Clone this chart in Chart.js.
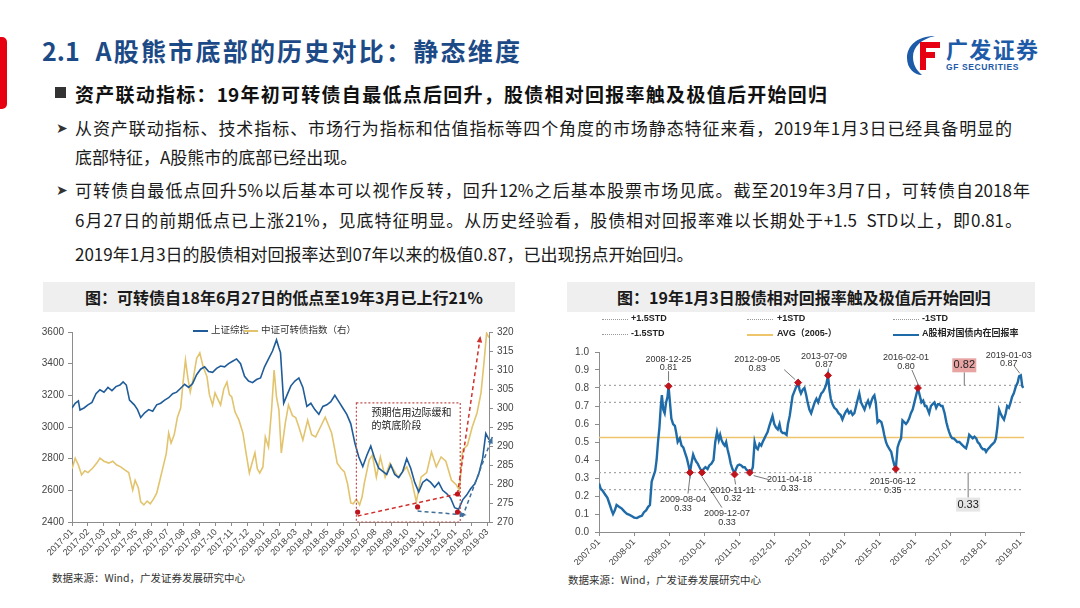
<!DOCTYPE html>
<html lang="zh">
<head>
<meta charset="UTF-8" />
<title>A股熊市底部的历史对比：静态维度</title>
<script src="https://cdn.jsdelivr.net/npm/chart.js"></script>
<style>
  body {
    margin: 0;
    width: 1080px;
    height: 608px;
    position: relative;
    overflow: hidden;
    background: #fff;
    font-family: "Noto Sans CJK SC", "Noto Sans", sans-serif;
    color: #222;
  }
  .t { position: absolute; white-space: nowrap; }
  .j { text-align: justify; text-align-last: justify; }
  .redbar { position: absolute; left: 0; top: 37px; width: 7px; height: 72px; background: #e60012; border-radius: 0 5px 5px 0; }
  .title { left: 42px; top: 36px; width: 478px; font-size: 25px; line-height: 28px; font-weight: bold; color: #1c4a86; }
  .logo1 { left: 946px; top: 36px; width: 92px; font-size: 22px; line-height: 24px; font-weight: bold; color: #1d5aa8; }
  .logo2 { left: 946px; top: 62px; font-size: 8.5px; line-height: 10px; font-weight: bold; color: #1d5aa8; letter-spacing: 0.6px; font-family: "Liberation Sans", sans-serif; }
  .head { left: 75px; top: 84px; width: 752px; font-size: 19px; line-height: 20px; font-weight: bold; color: #111; }
  .sq { left: 55px; top: 87px; width: 11px; height: 11px; background: #333; position: absolute; }
  .para { font-size: 17px; line-height: 20px; color: #1a1a1a; left: 75px; }
  .arrow { position: absolute; left: 56px; font-size: 14px; line-height: 20px; color: #333; font-family: "DejaVu Sans", sans-serif; }
  .boxhd { position: absolute; top: 282px; height: 30px; background: #efefef; }
  .chtitle { top: 287px; font-size: 16px; line-height: 20px; font-weight: bold; color: #1a1a1a; }
  .src { font-size: 10.5px; line-height: 12px; color: #333; }
  .lg { font-size: 9.5px; line-height: 11px; color: #333; }
  .lgb { font-size: 9px; line-height: 11px; color: #222; font-weight: bold; font-family: "Liberation Sans", "Noto Sans CJK SC", sans-serif; }
  .sw { position: absolute; height: 0; }
  canvas { position: absolute; }
</style>
</head>
<body>

<div class="redbar"></div>
<div class="t title j">2.1&nbsp; A股熊市底部的历史对比：静态维度</div>

<svg class="t" style="left:905px;top:34px" width="38" height="42" viewBox="0 0 38 42">
  <path d="M30 2 C12 2 2 12 2 24 C2 34 9 41 17 41 C11 36 8 30 8 23 C8 13 16 5 30 2 Z" fill="#1d5aa8"/>
  <rect x="15" y="8" width="20" height="6" fill="#e60012"/>
  <rect x="15" y="18" width="15" height="6" fill="#e60012"/>
  <rect x="15" y="8" width="6" height="28" fill="#e60012"/>
</svg>
<div class="t logo1 j">广发证券</div>
<div class="t logo2">GF SECURITIES</div>

<div class="sq"></div>
<div class="t head j">资产联动指标：19年初可转债自最低点后回升，股债相对回报率触及极值后开始回归</div>

<div class="arrow" style="top:118px">➤</div>
<div class="t para j" style="top:118px;width:937px">从资产联动指标、技术指标、市场行为指标和估值指标等四个角度的市场静态特征来看，2019年1月3日已经具备明显的</div>
<div class="t para" style="top:147px">底部特征，A股熊市的底部已经出现。</div>
<div class="arrow" style="top:180px">➤</div>
<div class="t para j" style="top:180px;width:955px">可转债自最低点回升5%以后基本可以视作反转，回升12%之后基本股票市场见底。截至2019年3月7日，可转债自2018年</div>
<div class="t para j" style="top:210px;width:947px">6月27日的前期低点已上涨21%，见底特征明显。从历史经验看，股债相对回报率难以长期处于+1.5&nbsp; STD以上，即0.81。</div>
<div class="t para" style="top:244px">2019年1月3日的股债相对回报率达到07年以来的极值0.87，已出现拐点开始回归。</div>

<div class="boxhd" style="left:43px;width:472px"></div>
<div class="t chtitle j" style="left:85px;width:387px">图：可转债自18年6月27日的低点至19年3月已上行21%</div>
<div class="boxhd" style="left:567px;width:468px"></div>
<div class="t chtitle j" style="left:617px;width:368px">图：19年1月3日股债相对回报率触及极值后开始回归</div>

<canvas id="leftChart" style="left:40px;top:318px" width="480" height="245"></canvas>
<canvas id="rightChart" style="left:560px;top:340px" width="480" height="225"></canvas>

<!-- left legend -->
<div class="sw" style="left:193px;top:330px;width:15px;border-top:2px solid #1f5c99"></div>
<div class="t lg" style="left:211px;top:324px">上证综指</div>
<div class="sw" style="left:244px;top:330px;width:14px;border-top:2px solid #e2c46e"></div>
<div class="t lg" style="left:261px;top:324px">中证可转债指数（右）</div>

<!-- right legend -->
<div class="sw" style="left:602px;top:319px;width:26px;border-top:1.5px dotted #999"></div>
<div class="t lgb" style="left:631px;top:313px">+1.5STD</div>
<div class="sw" style="left:747px;top:319px;width:26px;border-top:1.5px dotted #999"></div>
<div class="t lgb" style="left:777px;top:313px">+1STD</div>
<div class="sw" style="left:893px;top:319px;width:26px;border-top:1.5px dotted #999"></div>
<div class="t lgb" style="left:922px;top:313px">-1STD</div>
<div class="sw" style="left:602px;top:334px;width:26px;border-top:1.5px dotted #999"></div>
<div class="t lgb" style="left:631px;top:328px">-1.5STD</div>
<div class="sw" style="left:747px;top:334px;width:26px;border-top:2px solid #efc56b"></div>
<div class="t lgb" style="left:777px;top:328px">AVG（2005-）</div>
<div class="sw" style="left:893px;top:334px;width:26px;border-top:2px solid #1e6ba8"></div>
<div class="t lgb" style="left:922px;top:328px">A股相对国债内在回报率</div>

<div class="t src" style="left:52px;top:572px">数据来源：Wind，广发证券发展研究中心</div>
<div class="t src" style="left:568px;top:574px">数据来源：Wind，广发证券发展研究中心</div>

<script>
  // ---------- left chart data (x = months since 2017-01) ----------
  const monthLabels = ['2017-01','2017-02','2017-03','2017-04','2017-05','2017-06','2017-07','2017-08','2017-09',
    '2017-10','2017-11','2017-12','2018-01','2018-02','2018-03','2018-04','2018-05','2018-06','2018-07','2018-08',
    '2018-09','2018-10','2018-11','2018-12','2019-01','2019-02','2019-03'];

  const shMonths = [0,0.2,0.4,0.5,0.75,1.0,1.25,1.5,1.75,2.0,2.25,2.5,2.75,3.0,3.2,3.4,3.6,3.9,4.1,4.3,4.55,4.8,
    5.05,5.3,5.55,5.8,6.05,6.3,6.55,6.8,7.05,7.3,7.55,7.8,8.05,8.3,8.55,8.8,9.05,9.3,9.55,9.8,10.05,10.3,10.55,
    10.8,11.05,11.3,11.55,11.8,12.05,12.3,12.55,12.8,12.95,13.05,13.25,13.45,13.7,13.95,14.2,14.45,14.7,14.95,
    15.2,15.45,15.7,15.95,16.2,16.45,16.7,16.95,17.2,17.45,17.7,17.95,18.2,18.45,18.7,18.95,19.2,19.45,19.7,
    19.95,20.2,20.45,20.7,20.95,21.2,21.45,21.7,21.95,22.2,22.45,22.7,22.95,23.2,23.45,23.7,23.95,24.2,24.45,
    24.7,24.95,25.2,25.45,25.7,25.9,26.1];
  const shValues = [3120,3150,3165,3107,3120,3140,3155,3210,3235,3220,3250,3230,3255,3265,3285,3265,3170,3140,
    3110,3060,3090,3110,3100,3140,3150,3170,3185,3210,3220,3245,3270,3250,3275,3330,3365,3380,3350,3345,3370,
    3385,3380,3400,3415,3430,3400,3320,3290,3280,3300,3310,3380,3430,3480,3550,3500,3470,3150,3200,3260,3290,
    3310,3250,3130,3150,3110,3080,3130,3140,3160,3200,3160,3120,3080,3020,2900,2810,2750,2820,2880,2800,2740,
    2720,2700,2760,2700,2680,2720,2800,2740,2650,2590,2650,2670,2650,2620,2650,2600,2580,2550,2490,2480,2540,
    2570,2610,2640,2700,2800,2960,2920];

  const cbMonths = [0,0.2,0.4,0.6,0.8,1.0,1.3,1.55,1.75,2.0,2.3,2.55,2.8,3.05,3.3,3.55,3.8,3.95,4.15,4.3,4.5,
    4.7,4.9,5.1,5.3,5.5,5.7,5.9,6.05,6.2,6.4,6.6,6.8,6.95,7.1,7.25,7.4,7.6,7.8,8.0,8.2,8.45,8.6,8.8,8.95,9.1,
    9.3,9.5,9.7,9.85,10.0,10.2,10.45,10.7,10.9,11.1,11.3,11.45,11.6,11.75,11.95,12.1,12.3,12.5,12.65,12.8,12.95,
    13.1,13.35,13.55,13.8,14.0,14.2,14.45,14.75,15.0,15.25,15.55,15.85,16.1,16.25,16.45,16.6,16.85,17.05,17.25,
    17.45,17.6,17.8,18.0,18.15,18.3,18.6,18.8,19.05,19.3,19.6,19.9,20.1,20.4,20.95,21.25,21.55,21.85,22.2,22.5,
    22.8,23.1,23.4,23.75,24.05,24.25,24.45,24.75,25.05,25.35,25.6,25.8,25.95,26.1];
  const cbValues = [284,286.8,285,282.4,283.5,283,284.2,285.5,286.8,286,285.5,286,285,284.5,283.7,283,278.4,281,
    279,275.3,274.5,275.5,274.8,276,277.6,281,284.5,288,293.4,290.8,293,297.6,300,306.6,312.6,308,304.2,308,313,
    314.5,311,308.2,303.5,300.8,304,302.6,300.8,305,306.8,303.5,302.9,299,296.8,293.4,288,282.9,286,288.2,284,
    282.9,284.5,292.4,289.7,300,310,302.9,299.5,288.2,296,300.8,298,297.5,295,291.6,296.8,293,292.4,295,297.6,
    295,293.4,289,285.5,284,283.2,280,275,274.8,276,274.5,276.5,280.3,286.3,287.6,281.8,287.1,281.8,285.5,284,
    281.8,284.5,281.1,275.3,281.8,283,288.4,284.5,287.1,286,281,279.8,278.4,289,290.2,295,298.7,304,312.6,319.7,
    318.5];

  // ---------- right chart data (x = years since 2007-01) ----------
  const yearLabels = ['2007-01','2008-01','2009-01','2010-01','2011-01','2012-01','2013-01','2014-01','2015-01',
    '2016-01','2017-01','2018-01','2019-01'];

  const retYears = [0,0.05,0.1,0.17,0.24,0.31,0.36,0.4,0.45,0.5,0.57,0.65,0.72,0.8,0.87,0.94,1.0,1.08,1.15,1.22,
    1.28,1.34,1.4,1.45,1.5,1.55,1.6,1.64,1.68,1.72,1.76,1.79,1.83,1.87,1.91,1.95,1.98,2.02,2.06,2.11,2.16,2.2,
    2.24,2.3,2.35,2.4,2.45,2.5,2.55,2.59,2.63,2.68,2.72,2.77,2.81,2.86,2.9,2.93,2.98,3.03,3.09,3.14,3.2,3.26,
    3.31,3.36,3.41,3.45,3.49,3.54,3.58,3.62,3.66,3.71,3.75,3.8,3.86,3.9,3.95,4.0,4.05,4.1,4.15,4.2,4.25,4.29,
    4.34,4.38,4.43,4.47,4.52,4.57,4.62,4.66,4.71,4.76,4.8,4.85,4.9,4.94,4.99,5.04,5.09,5.14,5.18,5.23,5.28,5.34,
    5.38,5.43,5.47,5.51,5.56,5.6,5.63,5.67,5.71,5.75,5.8,5.85,5.9,5.94,5.99,6.04,6.09,6.14,6.19,6.24,6.29,6.33,
    6.38,6.43,6.47,6.52,6.56,6.6,6.65,6.7,6.76,6.82,6.88,6.93,6.98,7.03,7.07,7.12,7.17,7.22,7.27,7.32,7.37,7.41,
    7.46,7.51,7.56,7.61,7.66,7.71,7.76,7.8,7.84,7.88,7.93,7.98,8.04,8.08,8.12,8.17,8.21,8.27,8.32,8.37,8.41,
    8.45,8.5,8.55,8.6,8.64,8.69,8.74,8.78,8.83,8.88,8.93,8.98,9.03,9.08,9.13,9.18,9.23,9.28,9.32,9.36,9.4,9.45,
    9.5,9.55,9.6,9.65,9.69,9.74,9.78,9.84,9.89,9.93,9.97,10.02,10.06,10.1,10.15,10.2,10.26,10.31,10.36,10.41,
    10.45,10.5,10.54,10.59,10.64,10.69,10.74,10.78,10.83,10.88,10.93,10.98,11.02,11.07,11.12,11.16,11.21,11.26,
    11.3,11.34,11.39,11.43,11.48,11.53,11.58,11.62,11.67,11.72,11.76,11.81,11.87,11.92,11.96,12.01,12.05,12.08];
  const retValues = [0.27,0.24,0.23,0.21,0.19,0.15,0.12,0.10,0.12,0.15,0.14,0.13,0.115,0.10,0.095,0.088,0.08,
    0.078,0.085,0.09,0.11,0.12,0.14,0.15,0.28,0.31,0.34,0.40,0.50,0.58,0.70,0.76,0.68,0.66,0.72,0.75,0.81,0.72,
    0.63,0.60,0.59,0.55,0.50,0.52,0.48,0.47,0.44,0.41,0.37,0.33,0.38,0.43,0.41,0.39,0.38,0.36,0.345,0.33,0.35,
    0.36,0.35,0.37,0.38,0.40,0.50,0.555,0.51,0.54,0.51,0.49,0.48,0.50,0.46,0.42,0.38,0.35,0.325,0.35,0.37,0.375,
    0.37,0.36,0.36,0.345,0.34,0.33,0.34,0.36,0.50,0.47,0.46,0.49,0.48,0.50,0.52,0.54,0.555,0.59,0.62,0.645,0.60,
    0.58,0.57,0.60,0.56,0.55,0.55,0.54,0.60,0.645,0.70,0.755,0.78,0.80,0.81,0.83,0.79,0.77,0.79,0.80,0.76,0.72,
    0.68,0.66,0.69,0.72,0.74,0.72,0.75,0.77,0.78,0.80,0.82,0.87,0.79,0.74,0.71,0.69,0.68,0.66,0.65,0.625,0.65,
    0.67,0.68,0.66,0.67,0.65,0.66,0.70,0.74,0.77,0.72,0.70,0.68,0.71,0.73,0.70,0.73,0.75,0.76,0.72,0.61,0.62,
    0.61,0.58,0.54,0.50,0.48,0.46,0.445,0.40,0.37,0.35,0.47,0.50,0.52,0.62,0.61,0.60,0.61,0.63,0.66,0.68,0.72,
    0.76,0.80,0.76,0.72,0.73,0.70,0.70,0.68,0.66,0.70,0.71,0.72,0.69,0.71,0.71,0.70,0.70,0.66,0.61,0.58,0.555,
    0.53,0.52,0.52,0.51,0.50,0.50,0.49,0.48,0.47,0.465,0.50,0.54,0.53,0.52,0.53,0.52,0.50,0.49,0.47,0.46,0.46,
    0.445,0.46,0.47,0.48,0.49,0.50,0.52,0.58,0.68,0.66,0.64,0.625,0.66,0.70,0.69,0.72,0.75,0.77,0.81,0.83,0.865,
    0.87,0.81,0.80];

  const stdNames = ['+1.5STD', '+1STD', 'AVG（2005-）', '-1STD', '-1.5STD'];
  const stdValues = [0.815, 0.72, 0.525, 0.33, 0.235];

  const extremeDates = ['2008-12-25','2009-08-04','2009-12-07','2010-11-11','2011-04-18','2012-09-05',
    '2013-07-09','2015-06-12','2016-02-01','2019-01-03'];
  const extremeYears = [1.98, 2.59, 2.93, 3.86, 4.29, 5.67, 6.52, 8.45, 9.08, 12.01];
  const extremeValues = [0.81, 0.33, 0.33, 0.32, 0.33, 0.83, 0.87, 0.35, 0.80, 0.87];
  const extremeMarked = [true, true, true, true, true, true, true, true, true, false];

  // label placement relative to each extreme point (pixels): text offset, leader from, leader to
  const extremeLayout = [
    { dx: 0, dy: -27, l: [0, -15, 0, -5] },
    { dx: -7, dy: 27, l: [0, 4, -2, 21] },
    { dx: 25, dy: 41, l: [0, 4, 20, 35] },
    { dx: -2, dy: 16, l: [0, 4, 1, 10] },
    { dx: 40, dy: 7, l: [4, 3, 19, 7] },
    { dx: -41, dy: -23, l: [-14, -13, -3, -3] },
    { dx: -4, dy: -19, l: null },
    { dx: -3, dy: 13, l: null },
    { dx: -12, dy: -30, l: [-6, -18, 0, -4] },
    { dx: -12, dy: -20, l: [-7, -10, -1, -2] }
  ];

  // ---------- helpers ----------
  const tickFont = { family: 'Liberation Sans, Arial, sans-serif', size: 10 };
  const axisColor = '#8c8c8c';

  function pairs(xs, ys) {
    return xs.map((x, i) => ({ x: x, y: ys[i] }));
  }

  function arrowLine(ctx, x1, y1, x2, y2, color) {
    ctx.save();
    ctx.strokeStyle = color;
    ctx.fillStyle = color;
    ctx.lineWidth = 1.5;
    ctx.setLineDash([4, 3]);
    ctx.beginPath();
    ctx.moveTo(x1, y1);
    ctx.lineTo(x2, y2);
    ctx.stroke();
    ctx.setLineDash([]);
    const a = Math.atan2(y2 - y1, x2 - x1);
    ctx.beginPath();
    ctx.moveTo(x2, y2);
    ctx.lineTo(x2 - 7 * Math.cos(a - 0.4), y2 - 7 * Math.sin(a - 0.4));
    ctx.lineTo(x2 - 7 * Math.cos(a + 0.4), y2 - 7 * Math.sin(a + 0.4));
    ctx.closePath();
    ctx.fill();
    ctx.restore();
  }

  // ---------- left chart ----------
  const leftNotes = {
    id: 'leftNotes',
    afterDatasetsDraw(chart) {
      const { ctx, scales } = chart;
      const x = scales.x, y = scales.y;
      const X = v => x.getPixelForValue(v), Y = v => y.getPixelForValue(v);
      ctx.save();
      // box of the bottoming phase
      ctx.strokeStyle = '#c0504d';
      ctx.lineWidth = 1.2;
      ctx.setLineDash([2, 2]);
      ctx.strokeRect(X(17.8), Y(3152), X(24.3) - X(17.8), Y(2400) - Y(3152));
      ctx.setLineDash([]);
      ctx.fillStyle = '#222';
      ctx.font = '10px "Noto Sans CJK SC", sans-serif';
      ctx.textBaseline = 'middle';
      ctx.fillText('预期信用边际缓和', X(18.75), Y(3095));
      ctx.fillText('的筑底阶段', X(18.75), Y(3013));
      // red support line and rebound arrow
      ctx.strokeStyle = '#d0312d';
      ctx.lineWidth = 1.5;
      ctx.setLineDash([4, 3]);
      ctx.beginPath();
      ctx.moveTo(X(17.88), Y(2438));
      ctx.lineTo(X(24.13), Y(2577));
      ctx.stroke();
      ctx.restore();
      arrowLine(ctx, X(24.13), Y(2577), X(25.56), Y(3575), '#d0312d');
      arrowLine(ctx, X(21.63), Y(2469), X(24.69), Y(2444), '#3f6f9a');
      arrowLine(ctx, X(24.44), Y(2432), X(26.31), Y(2937), '#3f6f9a');
      // red markers
      ctx.save();
      ctx.fillStyle = '#c0141c';
      [[17.88, 2463], [21.63, 2495], [24.13, 2577], [24.13, 2463]].forEach(p => {
        ctx.beginPath();
        ctx.arc(X(p[0]), Y(p[1]), 2.6, 0, Math.PI * 2);
        ctx.fill();
      });
      ctx.restore();
    }
  };

  new Chart(document.getElementById('leftChart'), {
    type: 'line',
    data: {
      datasets: [
        { label: '上证综指', data: pairs(shMonths, shValues), yAxisID: 'y',
          borderColor: '#1f5c99', borderWidth: 1.6, pointRadius: 0, tension: 0 },
        { label: '中证可转债指数（右）', data: pairs(cbMonths, cbValues), yAxisID: 'y1',
          borderColor: '#e2c46e', borderWidth: 1.6, pointRadius: 0, tension: 0 }
      ]
    },
    options: {
      responsive: false,
      animation: false,
      layout: { padding: { top: 14, left: 0, right: 0, bottom: 0 } },
      plugins: { legend: { display: false }, tooltip: { enabled: false } },
      scales: {
        x: {
          type: 'linear', min: 0, max: 26.1,
          afterBuildTicks: s => { s.ticks = monthLabels.map((_, i) => ({ value: i })); },
          afterFit: s => { s.height = 41; },
          ticks: { autoSkip: false, maxRotation: 45, minRotation: 45, font: { ...tickFont, size: 9 },
            color: '#444', padding: 1, callback: v => monthLabels[v] },
          grid: { drawOnChartArea: false, tickLength: 4, color: axisColor },
          border: { color: axisColor }
        },
        y: {
          position: 'left', min: 2400, max: 3600,
          afterFit: s => { s.width = 32; },
          ticks: { stepSize: 200, font: tickFont, color: '#444', padding: 4, callback: v => String(v) },
          grid: { drawOnChartArea: false, tickLength: 4, color: axisColor },
          border: { color: axisColor }
        },
        y1: {
          position: 'right', min: 270, max: 320,
          afterFit: s => { s.width = 31; },
          ticks: { stepSize: 5, font: tickFont, color: '#444', padding: 4, callback: v => String(v) },
          grid: { drawOnChartArea: false, tickLength: 4, color: axisColor },
          border: { color: axisColor }
        }
      }
    },
    plugins: [leftNotes]
  });

  // ---------- right chart ----------
  const rightNotes = {
    id: 'rightNotes',
    afterDatasetsDraw(chart) {
      const { ctx, scales } = chart;
      const x = scales.x, y = scales.y;
      ctx.save();
      ctx.font = '9px "Liberation Sans", Arial, sans-serif';
      ctx.textAlign = 'center';
      ctx.textBaseline = 'middle';
      ctx.strokeStyle = '#555';
      ctx.lineWidth = 0.8;
      extremeDates.forEach((d, i) => {
        const px = x.getPixelForValue(extremeYears[i]);
        const py = y.getPixelForValue(extremeValues[i]);
        const L = extremeLayout[i];
        if (L.l) {
          ctx.beginPath();
          ctx.moveTo(px + L.l[0], py + L.l[1]);
          ctx.lineTo(px + L.l[2], py + L.l[3]);
          ctx.stroke();
        }
        ctx.fillStyle = '#333';
        ctx.fillText(d, px + L.dx, py + L.dy);
        ctx.fillText(extremeValues[i].toFixed(2), px + L.dx, py + L.dy + 8.5);
      });
      // boxed band values
      const boxed = [
        { t: 10.4, v: stdValues[0], text: '0.82', bg: '#e8a3a3', dy: -20 },
        { t: 10.51, v: stdValues[3], text: '0.33', bg: '#e6e6e6', dy: 32 }
      ];
      ctx.font = '11px "Liberation Sans", Arial, sans-serif';
      boxed.forEach(b => {
        const px = x.getPixelForValue(b.t);
        const py = y.getPixelForValue(b.v);
        ctx.beginPath();
        ctx.moveTo(px, py);
        ctx.lineTo(px, py + b.dy + (b.dy < 0 ? 7 : -7));
        ctx.stroke();
        ctx.fillStyle = b.bg;
        ctx.fillRect(px - 12, py + b.dy - 7, 24, 14);
        ctx.fillStyle = '#222';
        ctx.fillText(b.text, px, py + b.dy);
      });
      ctx.restore();
    }
  };

  const stdColors = ['#a6a6a6', '#a6a6a6', '#efc56b', '#a6a6a6', '#a6a6a6'];
  const stdSets = stdValues.map((v, i) => ({
    label: stdNames[i],
    data: [{ x: 0, y: v }, { x: 12.1, y: v }],
    borderColor: stdColors[i],
    borderWidth: i === 2 ? 1.5 : 1.2,
    borderDash: i === 2 ? [] : [2, 3],
    pointRadius: 0,
    order: 5
  }));

  new Chart(document.getElementById('rightChart'), {
    type: 'line',
    data: {
      datasets: [
        ...stdSets,
        { label: 'A股相对国债内在回报率', data: pairs(retYears, retValues),
          borderColor: '#1e6ba8', borderWidth: 2.4, pointRadius: 0, tension: 0, order: 2 },
        { label: 'extremes', type: 'scatter',
          data: pairs(extremeYears, extremeValues).filter((_, i) => extremeMarked[i]),
          pointStyle: 'rectRot', pointRadius: 3.5, backgroundColor: '#c0141c', borderColor: '#c0141c', order: 1 }
      ]
    },
    options: {
      responsive: false,
      animation: false,
      layout: { padding: { top: 8, left: 0, right: 16, bottom: 0 } },
      plugins: { legend: { display: false }, tooltip: { enabled: false } },
      scales: {
        x: {
          type: 'linear', min: 0, max: 12.1,
          afterBuildTicks: s => { s.ticks = yearLabels.map((_, i) => ({ value: i })); },
          afterFit: s => { s.height = 33; },
          ticks: { autoSkip: false, maxRotation: 45, minRotation: 45, font: { ...tickFont, size: 9 },
            color: '#444', padding: 1, callback: v => yearLabels[v] },
          grid: { drawOnChartArea: false, tickLength: 4, color: axisColor },
          border: { color: axisColor }
        },
        y: {
          min: 0, max: 1.0,
          afterFit: s => { s.width = 39; },
          ticks: { stepSize: 0.1, font: tickFont, color: '#444', padding: 6, callback: v => v.toFixed(1) },
          grid: { drawOnChartArea: false, tickLength: 4, color: axisColor },
          border: { color: axisColor }
        }
      }
    },
    plugins: [rightNotes]
  });
</script>
</body>
</html>
